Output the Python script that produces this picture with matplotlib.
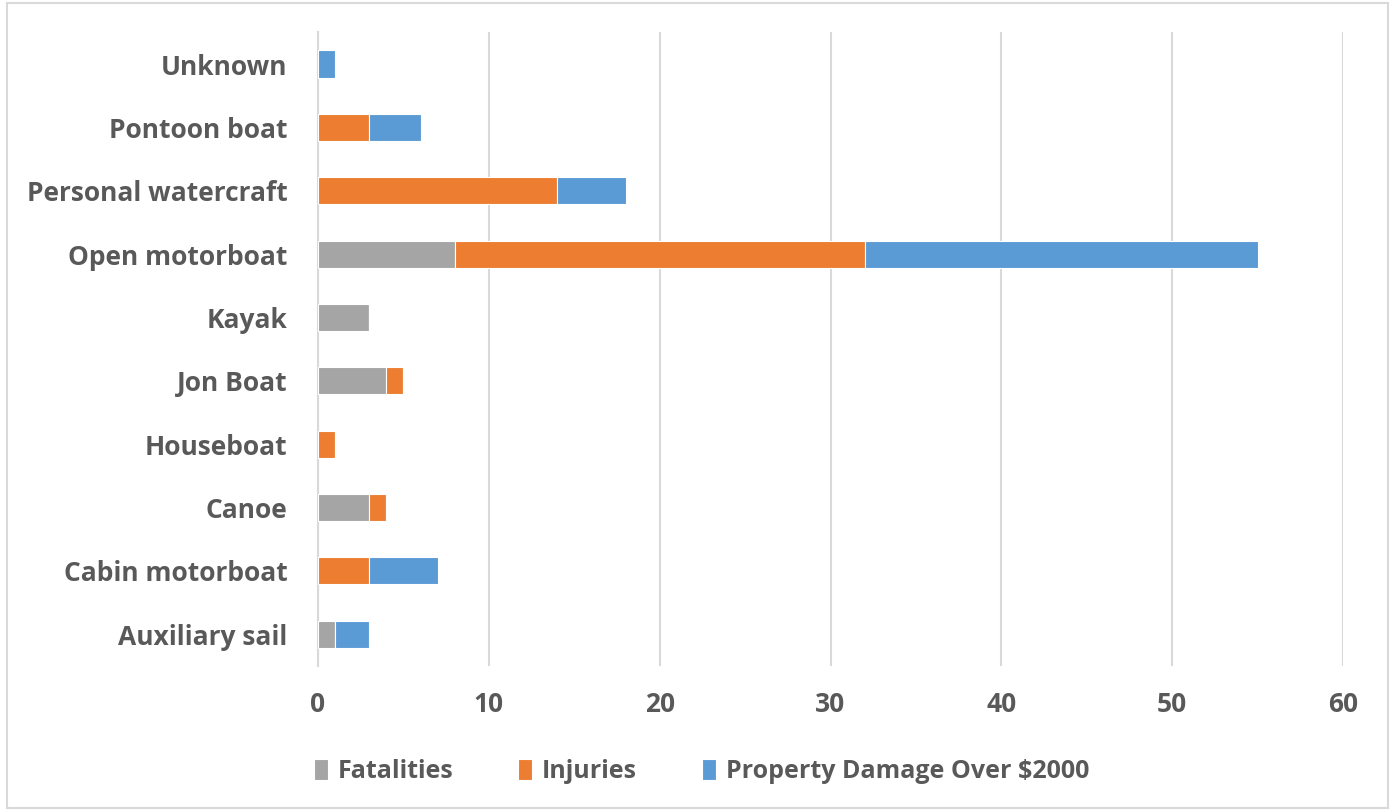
import matplotlib
matplotlib.use("Agg")
import matplotlib.pyplot as plt
from matplotlib.patches import Rectangle

categories = ["Auxiliary sail", "Cabin motorboat", "Canoe", "Houseboat", "Jon Boat",
              "Kayak", "Open motorboat", "Personal watercraft", "Pontoon boat", "Unknown"]
fatalities = [1, 0, 3, 0, 4, 3, 8, 0, 0, 0]
injuries = [0, 3, 1, 1, 1, 0, 24, 14, 3, 0]
property_damage = [2, 4, 0, 0, 0, 0, 23, 4, 3, 1]
series_names = ["Fatalities", "Injuries", "Property Damage Over $2000"]
colors = ["#A5A5A5", "#ED7D31", "#5B9BD5"]
xticks = [0, 10, 20, 30, 40, 50, 60]

plt.rcParams['font.family'] = ['Open Sans', 'DejaVu Sans']
txt = "#595959"

fig = plt.figure(figsize=(13.95, 8.11), dpi=100)
ax = fig.add_axes([0.228, 0.179, 0.7347, 0.781])

y = list(range(len(categories)))
left = [0] * len(categories)
for vals, name, c in zip([fatalities, injuries, property_damage], series_names, colors):
    ax.barh(y, vals, left=left, height=0.43, color=c, label=name,
            edgecolor="white", linewidth=0.8, zorder=3)
    left = [l + v for l, v in zip(left, vals)]

ax.set_xlim(0, 60)
ax.set_ylim(-0.5, len(categories) - 0.5)
ax.set_xticks(xticks)
ax.set_xticklabels([str(t) for t in xticks])
ax.set_yticks(y)
ax.set_yticklabels(categories)
ax.grid(axis="x", color="#D9D9D9", linewidth=1.5, zorder=0)
for s in ["top", "right", "bottom"]:
    ax.spines[s].set_visible(False)
ax.spines["left"].set_color("#D9D9D9")
ax.spines["left"].set_linewidth(1.5)
ax.tick_params(axis="both", length=0, colors=txt, labelsize=19)
ax.tick_params(axis="y", pad=22)
ax.tick_params(axis="x", pad=18)
for lbl in ax.get_xticklabels() + ax.get_yticklabels():
    lbl.set_fontweight("bold")

leg = fig.legend(loc="center", bbox_to_anchor=(0.503, 0.049), ncol=3, frameon=False,
                 prop={"size": 18, "weight": "bold"}, handlelength=0.55, handleheight=0.95,
                 columnspacing=2.6, handletextpad=0.4)
for t in leg.get_texts():
    t.set_color(txt)

fig.patches.append(Rectangle((0.005, 0.004), 0.99, 0.992, transform=fig.transFigure,
                             fill=False, edgecolor="#D9D9D9", linewidth=1.5))

fig.savefig("out.png", dpi=100)
